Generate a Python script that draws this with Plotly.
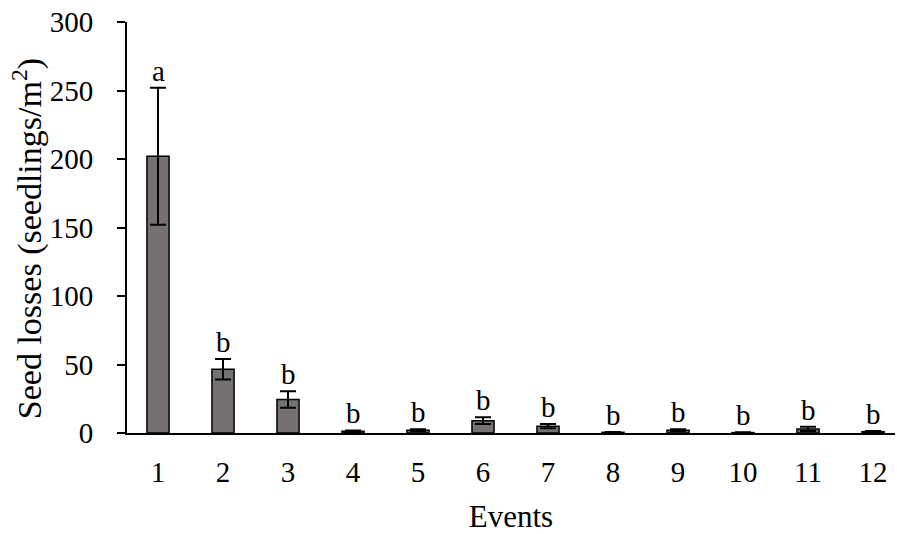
import plotly.graph_objects as go

events = [1, 2, 3, 4, 5, 6, 7, 8, 9, 10, 11, 12]
means = [202, 46.5, 24.5, 1.2, 2.0, 9.0, 5.0, 0.5, 2.0, 0.3, 3.0, 1.0]
errors = [50, 7.5, 6.0, 0.7, 0.8, 2.5, 1.5, 0.3, 0.8, 0.2, 1.5, 0.5]
letters = ["a", "b", "b", "b", "b", "b", "b", "b", "b", "b", "b", "b"]
yticks = [0, 50, 100, 150, 200, 250, 300]

font = "Liberation Serif"

fig = go.Figure()
fig.add_trace(go.Bar(
    x=events, y=means, width=0.34,
    marker=dict(color="#767171", line=dict(color="black", width=1.5)),
    error_y=dict(type="data", array=errors, visible=True, color="black",
                 thickness=2, width=8),
    showlegend=False,
))

for xv, m, e, l in zip(events, means, errors, letters):
    fig.add_annotation(x=xv, y=m + e, text=l, showarrow=False,
                       yanchor="bottom", yshift=-1,
                       font=dict(family=font, size=29, color="black"))

# y-axis title placed as rotated annotation
fig.add_annotation(xref="paper", yref="paper", x=-0.130, y=0.472,
                   text="Seed losses (seedlings/m<sup>2</sup>)", textangle=-90,
                   showarrow=False, xanchor="center", yanchor="middle",
                   font=dict(family=font, size=34, color="black"))

fig.update_layout(
    width=897, height=534,
    margin=dict(l=127, r=2, t=22, b=101),
    plot_bgcolor="white", paper_bgcolor="white",
    font=dict(family=font, size=29, color="black"),
    xaxis=dict(
        range=[0.523, 0.523 + 768 / 65],
        tickmode="array", tickvals=events, ticktext=[str(e) for e in events],
        showline=True, linecolor="black", linewidth=2,
        ticks="", showgrid=False, zeroline=False,
        ticklabelstandoff=12,
        tickfont=dict(family=font, size=29, color="black"),
        title=dict(text="Events", font=dict(family=font, size=31, color="black"), standoff=20),
    ),
    yaxis=dict(
        range=[0, 300], tickmode="array", tickvals=yticks,
        showline=True, linecolor="black", linewidth=2,
        ticks="outside", ticklen=8, tickwidth=2, tickcolor="black",
        showgrid=False, zeroline=False,
        ticklabelstandoff=18,
        tickfont=dict(family=font, size=29, color="black"),
    ),
)

fig.write_html("out.html")
